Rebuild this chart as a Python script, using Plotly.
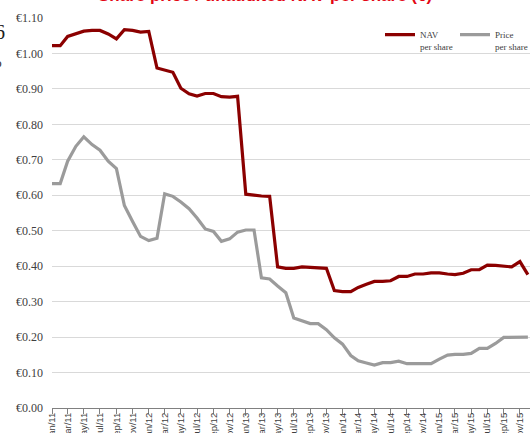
import pandas as pd
import plotly.graph_objects as go

# Monthly observations, Jan 2011 .. Dec 2015
months = pd.date_range("2011-01-01", periods=60, freq="MS")

nav_per_share = [
    1.022, 1.022, 1.048, 1.056, 1.063, 1.065, 1.065, 1.055, 1.041, 1.067, 1.065, 1.060,
    1.062, 0.959, 0.954, 0.947, 0.902, 0.886, 0.880, 0.887, 0.887, 0.878, 0.877, 0.879,
    0.603, 0.600, 0.598, 0.597, 0.398, 0.394, 0.394, 0.398, 0.396, 0.394, 0.394, 0.331,
    0.328, 0.328, 0.340, 0.349, 0.357, 0.357, 0.359, 0.371, 0.371, 0.378, 0.378, 0.381,
    0.381, 0.378, 0.376, 0.380, 0.390, 0.390, 0.403, 0.402, 0.401, 0.398, 0.413, 0.376,
]

price_per_share = [
    0.633, 0.633, 0.696, 0.738, 0.765, 0.743, 0.727, 0.696, 0.675, 0.571, 0.526, 0.484,
    0.472, 0.479, 0.604, 0.597, 0.581, 0.562, 0.536, 0.505, 0.498, 0.470, 0.477, 0.496,
    0.502, 0.502, 0.367, 0.364, 0.344, 0.325, 0.254, 0.246, 0.238, 0.238, 0.221, 0.198,
    0.180, 0.148, 0.133, 0.127, 0.121, 0.128, 0.128, 0.132, 0.125, 0.125, 0.125, 0.125,
    0.138, 0.149, 0.151, 0.151, 0.154, 0.168, 0.168, 0.182, 0.199, 0.200, 0.200, 0.200,
]

series_names = ["NAV<br>per share", "Price<br>per share"]
series_colors = ["#8B0000", "#9B9B9B"]

y_tick_values = [0.0, 0.1, 0.2, 0.3, 0.4, 0.5, 0.6, 0.7, 0.8, 0.9, 1.0, 1.1]
y_tick_labels = ["€0.00", "€0.10", "€0.20", "€0.30", "€0.40", "€0.50",
                 "€0.60", "€0.70", "€0.80", "€0.90", "€1.00", "€1.10"]

title_text = "Share price / unaudited NAV per share (€)"

fig = go.Figure()
for name, ys, col in zip(series_names, [nav_per_share, price_per_share], series_colors):
    fig.add_trace(go.Scatter(
        x=months, y=ys, name=name, mode="lines",
        line=dict(color=col, width=3.2),
    ))

fig.update_layout(
    template="none",
    width=530, height=433,
    margin=dict(l=52, r=0, t=18, b=25, pad=0),
    paper_bgcolor="white", plot_bgcolor="white",
    showlegend=True,
    legend=dict(
        orientation="h", x=1.0, y=0.989, xanchor="right", yanchor="top",
        bgcolor="rgba(0,0,0,0)", valign="top",
        font=dict(family="Liberation Serif", size=9, color="#404040"),
        itemwidth=30, tracegroupgap=0,
        entrywidth=30, entrywidthmode="pixels",
    ),
    xaxis=dict(
        type="date",
        range=["2011-01-01", "2015-12-09"],
        tick0="2011-01-01", dtick="M2", tickformat="%b/%y",
        tickangle=-90,
        ticks="outside", ticklen=5, tickcolor="#808080", tickwidth=1,
        ticklabelstandoff=-5,
        showline=True, linecolor="#808080", linewidth=1,
        showgrid=False, zeroline=False, automargin=False,
        tickfont=dict(family="Liberation Sans Narrow, Arial Narrow, Liberation Sans, sans-serif",
                      size=9.5, color="#404040"),
    ),
    yaxis=dict(
        range=[0, 1.1],
        tickvals=y_tick_values, ticktext=y_tick_labels,
        showgrid=True, gridcolor="#D9D9D9", gridwidth=1,
        zeroline=False, showline=False, ticks="", automargin=False,
        ticklabelstandoff=8,
        tickfont=dict(family="Liberation Serif", size=12, color="#404040"),
    ),
    annotations=[
        dict(text="<b>" + title_text + "</b>", xref="paper", yref="paper",
             x=0.4456, y=1.028, xanchor="center", yanchor="bottom", showarrow=False,
             font=dict(family="Liberation Sans, Arial, sans-serif", size=17, color="#E30613")),
        dict(text="6", xref="paper", yref="paper", x=-0.095, y=0.965,
             xanchor="right", yanchor="middle", showarrow=False,
             font=dict(family="Liberation Serif", size=20, color="#202020")),
        dict(text="%", xref="paper", yref="paper", x=-0.101, y=0.885,
             xanchor="right", yanchor="middle", showarrow=False,
             font=dict(family="Liberation Serif", size=14, color="#202020")),
    ],
)

fig.write_html(
    "out.html",
    config={"displayModeBar": False},
    post_script="document.body.style.margin='0';document.body.style.overflow='hidden';",
)
